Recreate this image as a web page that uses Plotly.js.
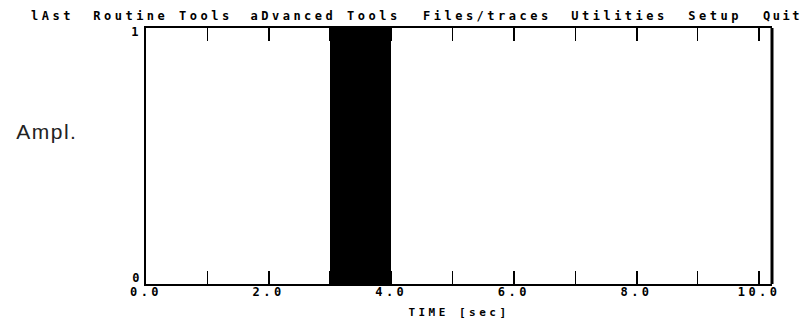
<!DOCTYPE html>
<html>
<head>
<meta charset="utf-8">
<script src="https://cdn.plot.ly/plotly-3.0.1.min.js"></script>
<style>
  html, body { margin: 0; padding: 0; background: #fff; }
  #plot { width: 805px; height: 322px; }
  /* wide terminal-style lettering for menu, ticks and axis title */
  #plot .xtick text,
  #plot .g-xtitle text,
  #plot .annotation text { letter-spacing: 3.5px; }
  #plot .annotation[data-index="0"] text { letter-spacing: 1.5px; }
  #plot .annotation[data-index="7"] text { letter-spacing: 2.5px; }
</style>
</head>
<body>
<div id="plot"></div>
<script>
// Trace: a single unit pulse in time
var pulseStart = [3.0];
var pulseEnd = [4.0];
var pulseAmp = [1.0];

// Axis ticks
var xTickVals = [0, 2, 4, 6, 8, 10];
var xTickText = ['0.0', '2.0', '4.0', '6.0', '8.0', '10.0'];
var yLabels = ['1', '0'];

// Menu bar entries and their centres (px)
var menuItems = ['lAst', 'Routine Tools', 'aDvanced Tools', 'Files/traces', 'Utilities', 'Setup', 'Quit'];
var menuCenter = [52, 163, 325, 487, 619, 715, 782];

var W = 805, H = 322;
var M = { l: 146, r: 33, t: 28, b: 38 };
var plotW = W - M.l - M.r, plotH = H - M.t - M.b;
function px2paperX(px) { return (px - M.l) / plotW; }
function px2paperY(py) { return (H - M.b - py) / plotH; }

var mono = 'DejaVu Sans Mono, Liberation Mono, monospace';

var pulse = {
  type: 'bar',
  x: pulseStart.map(function (s, i) { return (s + pulseEnd[i]) / 2; }),
  width: pulseStart.map(function (s, i) { return pulseEnd[i] - s; }),
  y: pulseAmp,
  marker: { color: '#000', line: { width: 0 } },
  hoverinfo: 'skip'
};

var annotations = [{
  text: 'Ampl.', xref: 'paper', yref: 'paper',
  x: px2paperX(47), y: px2paperY(131), xanchor: 'center', yanchor: 'middle',
  showarrow: false,
  font: { family: 'Liberation Sans, Arial, sans-serif', size: 21, color: '#222' }
}];

menuItems.forEach(function (m, i) {
  annotations.push({
    text: m, xref: 'paper', yref: 'paper',
    x: px2paperX(menuCenter[i]), y: px2paperY(16), xanchor: 'center', yanchor: 'middle',
    showarrow: false,
    font: { family: mono, size: 12, weight: 'bold', color: '#000' }
  });
});

// Amplitude labels at the top and bottom of the frame
annotations.push({
  text: yLabels[0], xref: 'paper', yref: 'paper',
  x: px2paperX(136), y: px2paperY(32), xanchor: 'center', yanchor: 'middle',
  showarrow: false, font: { family: mono, size: 12, weight: 'bold', color: '#000' }
});
annotations.push({
  text: yLabels[1], xref: 'paper', yref: 'paper',
  x: px2paperX(137), y: px2paperY(278), xanchor: 'center', yanchor: 'middle',
  showarrow: false, font: { family: mono, size: 12, weight: 'bold', color: '#000' }
});

var layout = {
  width: W, height: H,
  margin: M,
  paper_bgcolor: '#fff', plot_bgcolor: '#fff',
  showlegend: false,
  bargap: 0,
  xaxis: {
    range: [0, 10.21],
    showgrid: false, zeroline: false,
    showline: true, linecolor: '#000', linewidth: 2,
    mirror: 'ticks',
    ticks: 'inside', ticklen: 13, tickwidth: 2, tickcolor: '#000',
    tickvals: xTickVals, ticktext: xTickText,
    ticklabelstandoff: -4,
    minor: { dtick: 1, tick0: 0, ticks: 'inside', ticklen: 13, tickwidth: 1, tickcolor: '#000', showgrid: false },
    tickfont: { family: mono, size: 12, weight: 'bold', color: '#000' },
    title: { text: 'TIME [sec]', font: { family: mono, size: 11, weight: 'bold', color: '#000' }, standoff: 10 },
    automargin: false,
    fixedrange: true
  },
  yaxis: {
    range: [0, 1],
    showgrid: false, zeroline: false,
    showline: true, linecolor: '#000', linewidth: 2,
    ticks: '', showticklabels: false,
    automargin: false,
    fixedrange: true
  },
  shapes: [{
    type: 'line', xref: 'paper', yref: 'paper',
    x0: 1, x1: 1, y0: 0, y1: 1,
    line: { color: '#000', width: 3 }
  }],
  annotations: annotations
};

Plotly.newPlot('plot', [pulse], layout, { displayModeBar: false, staticPlot: true });
</script>
</body>
</html>
